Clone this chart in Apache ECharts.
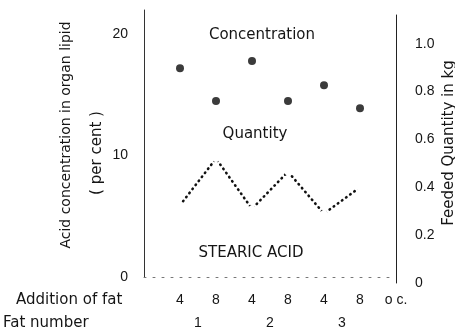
<!DOCTYPE html>
<html><head><meta charset="utf-8">
<script src="https://cdn.jsdelivr.net/npm/echarts@6/dist/echarts.min.js"></script>
<style>html,body{margin:0;padding:0;background:#fff}#c{width:455px;height:330px}</style>
</head><body><div id="c"></div>
<script>
// Categories (x axis): addition of fat per group, and group (fat number) labels
const additionOfFat = ['', '4', '8', '4', '8', '4', '8', 'o c.'];
const fatNumbers = ['1', '2', '3'];
const fatNumberPositions = [1.5, 3.5, 5.5];
// Series values
const concentration = [null, 17.2, 14.5, 17.8, 14.5, 15.8, 13.9, null]; // per cent (left axis)
const quantity = [null, 0.325, 0.52, 0.31, 0.465, 0.29, 0.40, null];    // kg (right axis)
// Tick labels
const leftTicks = [0, 10, 20];
const rightTicks = [0, 0.2, 0.4, 0.6, 0.8, 1.0];

const INK = '#151515';
const TXT = 'DejaVu Sans';
const NUM = 'Liberation Sans';

const chart = echarts.init(document.getElementById('c'), null, {renderer: 'canvas'});
chart.setOption({
  animation: false,
  backgroundColor: '#fff',
  grid: [
    {left: 144, width: 252, top: 10, bottom: 53},
    {left: 144, width: 252, top: 15, bottom: 47}
  ],
  xAxis: [
    {
      gridIndex: 0, type: 'category', boundaryGap: false, data: additionOfFat,
      axisLine: {show: true, lineStyle: {color: '#777', type: [2, 7], width: 1}},
      axisTick: {show: false},
      axisLabel: {interval: 0, margin: 16, color: INK, fontFamily: NUM, fontSize: 14}
    },
    {
      gridIndex: 0, type: 'value', min: 0, max: 7, interval: 0.5, position: 'bottom',
      axisLine: {show: false}, axisTick: {show: false}, splitLine: {show: false},
      axisLabel: {
        margin: 39, color: INK, fontFamily: NUM, fontSize: 14,
        showMinLabel: true, showMaxLabel: true,
        formatter: v => { const i = fatNumberPositions.indexOf(v); return i >= 0 ? fatNumbers[i] : ''; }
      }
    },
    {
      gridIndex: 1, type: 'category', boundaryGap: false, data: additionOfFat, show: false
    }
  ],
  yAxis: [
    {
      gridIndex: 0, type: 'value', position: 'left', min: 0, max: 22, interval: 10,
      axisLine: {show: true, lineStyle: {color: '#333', width: 1}},
      axisTick: {show: false}, splitLine: {show: false},
      axisLabel: {
        margin: 16, color: INK, fontFamily: NUM, fontSize: 14,
        formatter: v => leftTicks.includes(v) ? String(v) : ''
      }
    },
    {
      gridIndex: 1, type: 'value', position: 'right', min: 0, max: 1.12, interval: 0.2,
      axisLine: {show: true, lineStyle: {color: '#222', width: 1}},
      axisTick: {show: false}, splitLine: {show: false},
      axisLabel: {
        margin: 19, color: INK, fontFamily: NUM, fontSize: 14,
        formatter: v => {
          const t = rightTicks.find(r => Math.abs(r - v) < 1e-6);
          if (t === undefined) return '';
          return t === 0 ? '0' : t.toFixed(1);
        }
      }
    }
  ],
  series: [
    {
      name: 'Concentration', type: 'scatter', xAxisIndex: 0, yAxisIndex: 0,
      data: concentration, symbol: 'circle', symbolSize: 8,
      itemStyle: {color: '#0a0a0a'}
    },
    {
      name: 'Quantity', type: 'line', xAxisIndex: 2, yAxisIndex: 1,
      data: quantity, connectNulls: false,
      symbol: 'emptyCircle', symbolSize: 5, showSymbol: true,
      itemStyle: {color: '#fff', borderColor: '#aaa', borderWidth: 1},
      lineStyle: {color: '#111', width: 2.6, type: [0.5, 4.6], cap: 'round'}
    }
  ],
  graphic: [
    {type: 'text', x: 262, y: 35, style: {text: 'Concentration', fill: INK, font: '15px "DejaVu Sans"', align: 'center', verticalAlign: 'middle'}},
    {type: 'text', x: 255, y: 134, style: {text: 'Quantity', fill: INK, font: '15px "DejaVu Sans"', align: 'center', verticalAlign: 'middle'}},
    {type: 'text', x: 251, y: 253, style: {text: 'STEARIC ACID', fill: INK, font: '15px "DejaVu Sans"', align: 'center', verticalAlign: 'middle'}},
    {type: 'text', x: 66, y: 135, rotation: Math.PI / 2, style: {text: 'Acid concentration in organ lipid', fill: INK, font: '14px "DejaVu Sans"', align: 'center', verticalAlign: 'middle'}},
    {type: 'text', x: 97, y: 153, rotation: Math.PI / 2, style: {text: '( per cent )', fill: INK, font: '15px "DejaVu Sans"', align: 'center', verticalAlign: 'middle'}},
    {type: 'text', x: 449, y: 143, rotation: Math.PI / 2, style: {text: 'Feeded Quantity in kg', fill: INK, font: '15px "DejaVu Sans"', align: 'center', verticalAlign: 'middle'}},
    {type: 'text', x: 16, y: 300, style: {text: 'Addition of fat', fill: INK, font: '15px "DejaVu Sans"', align: 'left', verticalAlign: 'middle'}},
    {type: 'text', x: 3, y: 323, style: {text: 'Fat number', fill: INK, font: '15px "DejaVu Sans"', align: 'left', verticalAlign: 'middle'}}
  ]
});
</script></body></html>
